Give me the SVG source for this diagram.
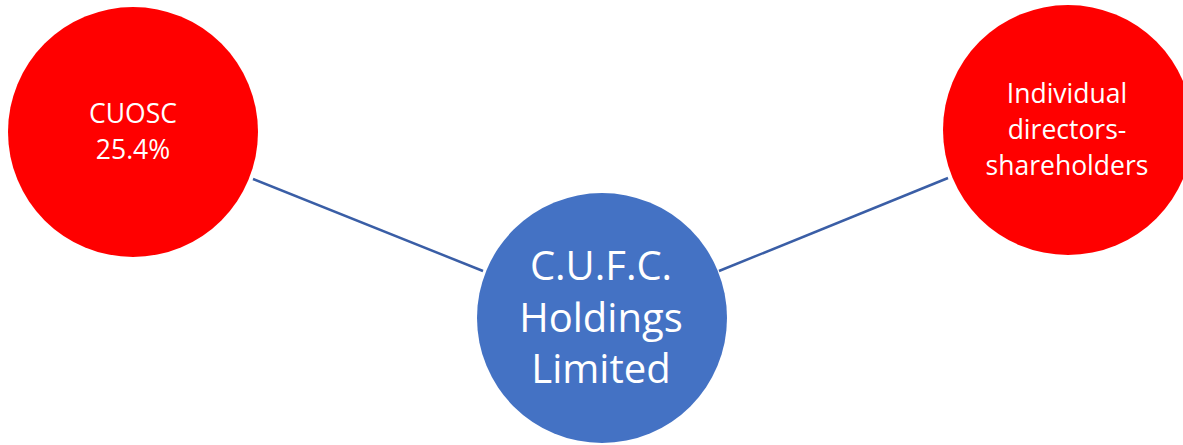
<svg xmlns="http://www.w3.org/2000/svg" width="1183" height="445" viewBox="0 0 1183 445">
<style>
.red{fill:#ff0000}
.blue{fill:#4472c4}
.t{fill:#ffffff;font-family:"Open Sans","Noto Sans",sans-serif;text-anchor:middle}
.s{font-size:26.5px}
.b{font-size:40px}
.c{stroke:#3a5ea6;stroke-width:2.5;fill:none}
</style>
<rect width="1183" height="445" fill="#ffffff"/>
<g id="connectors">
<line class="c" x1="253" y1="179" x2="483" y2="271"/>
<line class="c" x1="719" y1="271" x2="948" y2="178"/>
</g>
<g id="cuosc">
<circle class="red" cx="133" cy="132" r="125"/>
<text class="t s" x="133" y="123">CUOSC</text>
<text class="t s" x="133" y="159">25.4%</text>
</g>
<g id="directors">
<circle class="red" cx="1068" cy="130" r="125"/>
<text class="t s" x="1067" y="103">Individual</text>
<text class="t s" x="1067" y="139">directors-</text>
<text class="t s" x="1067" y="175">shareholders</text>
</g>
<g id="cufc">
<circle class="blue" cx="602" cy="318" r="125"/>
<text class="t b" x="601" y="280">C.U.F.C.</text>
<text class="t b" x="601" y="332">Holdings</text>
<text class="t b" x="601" y="383">Limited</text>
</g>
</svg>
